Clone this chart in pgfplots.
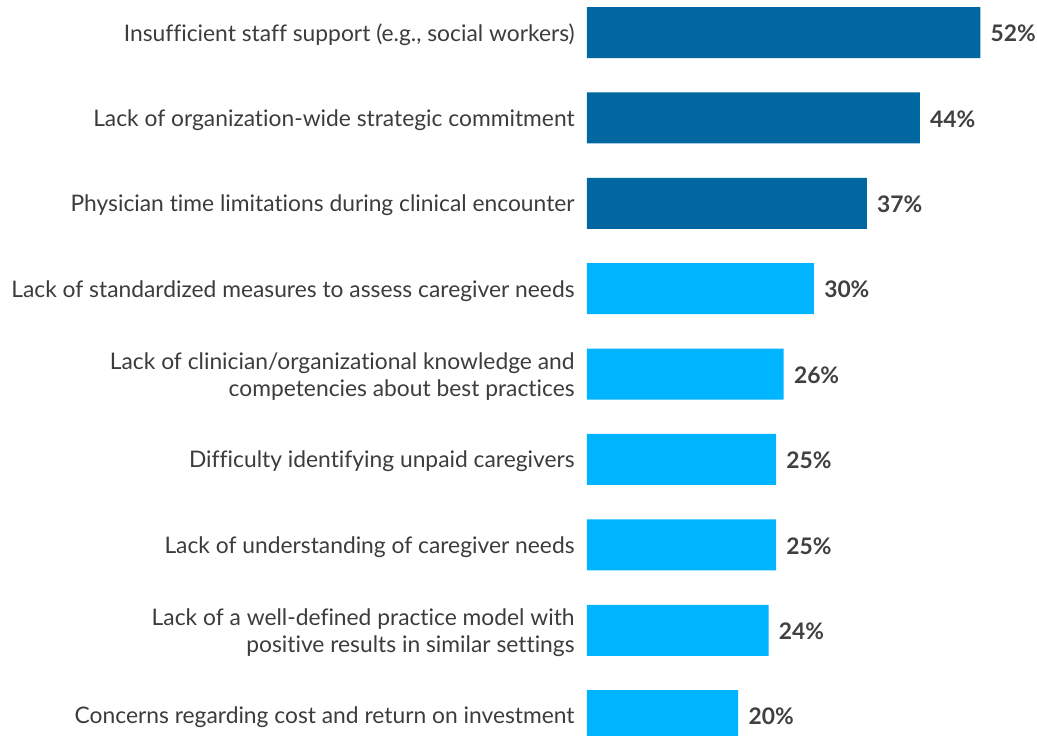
\documentclass[border=0pt]{standalone}
\usepackage{fontspec}
\setmainfont{Lato}[Ligatures=NoCommon]
\usepackage{pgfplots}
\pgfplotsset{compat=1.18}
\definecolor{darkbar}{HTML}{0067A0}
\definecolor{lightbar}{HTML}{00B4FF}
\definecolor{labeltext}{HTML}{3C3C3C}
\definecolor{valtext}{HTML}{404040}

\begin{document}
\begin{tikzpicture}
\begin{axis}[
  name=ax, xbar, bar shift=0pt, bar width=25.5pt,
  width=225pt, height=368pt, scale only axis,
  xmin=0, xmax=59.5, ymin=-0.238, ymax=8.381,
  axis line style={draw=none}, tick style={draw=none}, major tick length=0pt,
  xtick=\empty, ytick={0,...,8},
  yticklabels={
    Concerns regarding cost and return on investment,
    {Lack of a well-defined practice model with\\positive results in similar settings},
    Lack of understanding of caregiver needs,
    Difficulty identifying unpaid caregivers,
    {Lack of clinician/organizational knowledge and\\competencies about best practices},
    Lack of standardized measures to assess caregiver needs,
    Physician time limitations during clinical encounter,
    Lack of organization-wide strategic commitment,
    Insufficient staff support (e.g.{,} social workers)},
  yticklabel style={align=right, font=\fontsize{11.4}{13.5}\selectfont, text=labeltext, inner sep=0pt, xshift=-6pt, yshift=-1pt},
  /pgf/number format/assume math mode=true,
  point meta=x,
  nodes near coords={\pgfmathprintnumber{\pgfplotspointmeta}\%},
  nodes near coords style={anchor=west, inner sep=0pt, xshift=5pt, yshift=-0.5pt, font=\fontsize{11.4}{13}\selectfont\bfseries, text=valtext},
  clip=false]
\addplot[fill=darkbar, draw=none] coordinates {(52,8) (44,7) (37,6)};
\addplot[fill=lightbar, draw=none] coordinates {(30,5) (26,4) (25,3) (25,2) (24,1) (20,0)};
\end{axis}
\pgfresetboundingbox
\path[use as bounding box] ([xshift=-293.5pt]ax.south west) rectangle (ax.north east);
\end{tikzpicture}
\end{document}
